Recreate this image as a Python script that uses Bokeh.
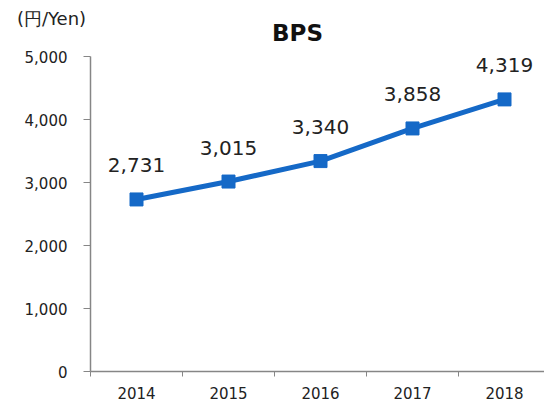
from bokeh.plotting import figure
from bokeh.models import ColumnDataSource, FixedTicker, Range1d, NumeralTickFormatter, Label
from bokeh.core.properties import value
from bokeh.embed import file_html
from bokeh.resources import INLINE

years = ["2014", "2015", "2016", "2017", "2018"]
bps = [2731, 3015, 3340, 3858, 4319]
bps_labels = ["2,731", "3,015", "3,340", "3,858", "4,319"]
y_ticks = [0, 1000, 2000, 3000, 4000, 5000]

FONT = "DejaVu Sans"
BLUE = "#1569c7"
GRAY = "#868686"
PX_X = 1 / 92      # data units per pixel, x
PX_Y = 1000 / 63   # data units per pixel, y

xs = list(range(len(years)))
src = ColumnDataSource(dict(x=xs, y=bps, lab=bps_labels))

p = figure(width=544, height=403, output_backend="svg", toolbar_location=None,
           x_range=Range1d(-0.5, -0.5 + 454 * PX_X), y_range=Range1d(0, 5000),
           min_border_left=90, min_border_right=0, min_border_top=56, min_border_bottom=32)
p.outline_line_color = None
p.xgrid.grid_line_color = None
p.ygrid.grid_line_color = None
p.background_fill_color = "white"
p.border_fill_color = "white"

# title and unit, placed in the top margin (side panel -> not clipped to the frame)
p.add_layout(Label(x=-0.5 + (297 - 90) * PX_X, y=5000 + (56 - 32) * PX_Y, text="BPS",
                   text_align="center", text_baseline="middle", text_font=FONT,
                   text_font_size="23px", text_font_style="bold", text_color="#111111"), "above")
p.add_layout(Label(x=-0.5 + (51 - 90) * PX_X, y=5000 + (56 - 18) * PX_Y, text="(円/Yen)",
                   text_align="center", text_baseline="middle", text_font=FONT,
                   text_font_size="18px", text_color="#222222"), "above")

p.line("x", "y", source=src, line_color=BLUE, line_width=5)
p.scatter("x", "y", source=src, marker="square", size=13, fill_color=BLUE, line_color=BLUE)
p.text("x", "y", text="lab", source=src, text_align="center", text_baseline="bottom",
       y_offset=-27, text_font=value(FONT), text_font_size="20px", text_color="#222222")

# x axis
xa = p.xaxis[0]
xa.ticker = FixedTicker(ticks=xs, minor_ticks=[i - 0.5 for i in range(len(years) + 1)])
xa.major_label_overrides = {i: y for i, y in enumerate(years)}
xa.major_tick_out = 0
xa.major_tick_in = 0
xa.minor_tick_out = 5
xa.minor_tick_in = 0
xa.minor_tick_line_color = GRAY
xa.axis_line_color = GRAY
xa.axis_line_width = 1.5
xa.major_label_text_font = FONT
xa.major_label_text_font_size = "15px"
xa.major_label_text_color = "#222222"
xa.major_label_standoff = 10

# y axis
ya = p.yaxis[0]
ya.ticker = FixedTicker(ticks=y_ticks, minor_ticks=[])
ya.formatter = NumeralTickFormatter(format="0,0")
ya.major_tick_out = 7
ya.major_tick_in = 0
ya.major_tick_line_color = GRAY
ya.axis_line_color = GRAY
ya.axis_line_width = 1.5
ya.major_label_text_font = FONT
ya.major_label_text_font_size = "15px"
ya.major_label_text_color = "#222222"
ya.major_label_standoff = 16

open("out.html", "w").write(file_html(p, INLINE))
